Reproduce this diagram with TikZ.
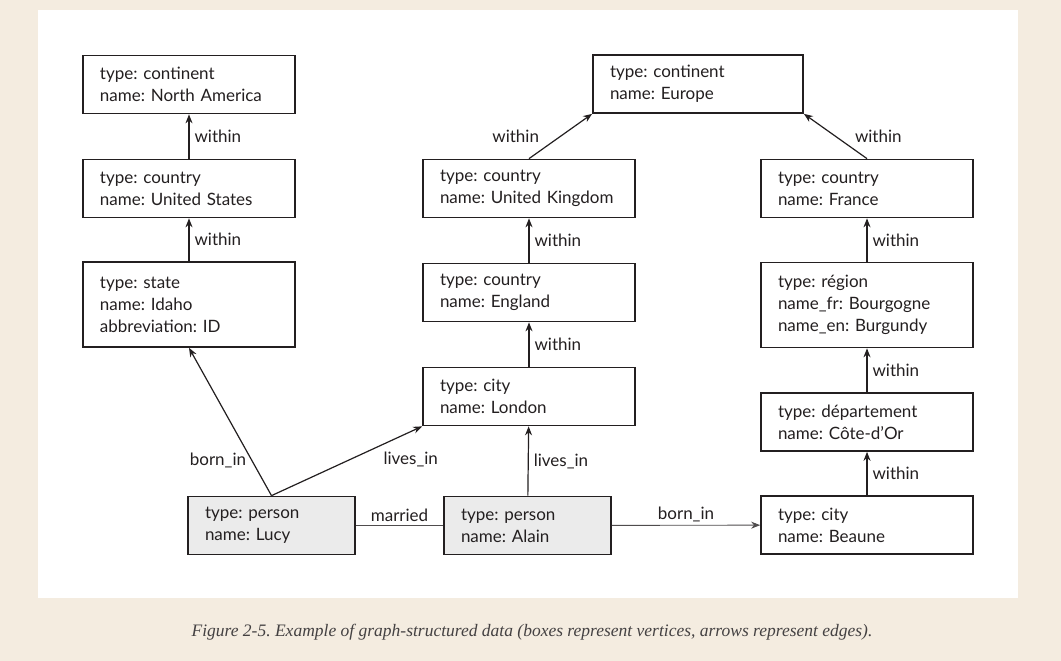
\documentclass[tikz,border=0pt]{standalone}
\usepackage{fontspec}
\setmainfont{Lato}
\newfontfamily\capfont{Liberation Serif}
\usetikzlibrary{arrows.meta}
\definecolor{pagebg}{HTML}{F4ECE0}
\definecolor{persongray}{HTML}{EBEBEB}
\definecolor{ink}{HTML}{231F20}
\frenchspacing
\begin{document}
\begin{tikzpicture}[
        x=1bp, y=1bp,
        vertex/.style={draw=ink, line width=1.7bp, text=ink, align=left, inner xsep=17bp, inner ysep=0pt,
            text width=178bp, minimum height=58bp, font=\fontsize{17bp}{22bp}\selectfont},
        tall/.style={minimum height=85bp},
        person/.style={fill=persongray, text width=133bp},
        edgelbl/.style={text=ink, font=\fontsize{17bp}{18bp}\selectfont, inner sep=3bp},
        rel/.style={draw=ink, line width=1.2bp, -{Stealth[length=9bp,width=7bp]}},
        plain/.style={draw=ink!80, line width=0.9bp},
    ]
    \fill[pagebg] (0,0) rectangle (1061,661);
    \fill[white] (38,63) rectangle (1018,651);

    \node[vertex](northamerica) at (189,576.5) {type: continent\\name: North America};
    \node[vertex](unitedstates) at (189,472.5) {type: country\\name: United States};
    \node[vertex, tall](idaho) at (189,356.5) {type: state\\name: Idaho\\abbreviation: ID};

    \node[vertex, text width=176bp](europe) at (698,577) {type: continent\\name: Europe};
    \node[vertex](unitedkingdom) at (529,472.5) {type: country\\name: United Kingdom};
    \node[vertex](england) at (529,368.5) {type: country\\name: England};
    \node[vertex](london) at (529,264.5) {type: city\\name: London};

    \node[vertex](france) at (867,472.5) {type: country\\name: France};
    \node[vertex, tall](region) at (867,356) {type: région\\name\_fr: Bourgogne\\name\_en: Burgundy};
    \node[vertex](departement) at (867,239) {type: département\\name: Côte-d’Or};
    \node[vertex](beaune) at (867,136) {type: city\\name: Beaune};

    \node[vertex, person](lucy) at (271.5,135.5) {type: person\\name: Lucy};
    \node[vertex, person](alain) at (527.5,135.5) {type: person\\name: Alain};

    \draw[rel] (unitedstates) -- node[edgelbl, right, xshift=2bp]{within} (northamerica);
    \draw[rel] (idaho) -- node[edgelbl, right, xshift=2bp]{within} (unitedstates);
    \draw[rel] (unitedkingdom.north) -- node[edgelbl, left, xshift=-18bp]{within} (europe.south west);
    \draw[rel] (france.north) -- node[edgelbl, right, xshift=16bp]{within} (europe.south east);
    \draw[rel] (england) -- node[edgelbl, right, xshift=2bp]{within} (unitedkingdom);
    \draw[rel] (london) -- node[edgelbl, right, xshift=2bp]{within} (england);
    \draw[rel] (region) -- node[edgelbl, right, xshift=2bp]{within} (france);
    \draw[rel] (departement) -- node[edgelbl, right, xshift=2bp]{within} (region);
    \draw[rel] (beaune) -- node[edgelbl, right, xshift=2bp]{within} (departement);

    \draw[rel] (lucy.north) -- node[edgelbl, pos=0.24, left, xshift=-2bp]{born\_in} (idaho.south);
    \draw[rel] (lucy.north) -- node[edgelbl, pos=0.72, anchor=north west, yshift=-3bp]{lives\_in} (london.south west);
    \draw[rel] (alain) -- node[edgelbl, right, xshift=2bp]{lives\_in} (london);
    \draw[plain] (lucy) -- node[edgelbl, above]{married} (alain);
    \draw[plain, -{Stealth[length=9bp,width=7bp]}] (alain) -- node[edgelbl, above]{born\_in} (beaune);

    \node[text=ink!85, font=\capfont\itshape\fontsize{17.5bp}{20bp}\selectfont](caption) at (532,29)
        {Figure 2-5. Example of graph-structured data (boxes represent vertices, arrows represent edges).};
\end{tikzpicture}
\end{document}
